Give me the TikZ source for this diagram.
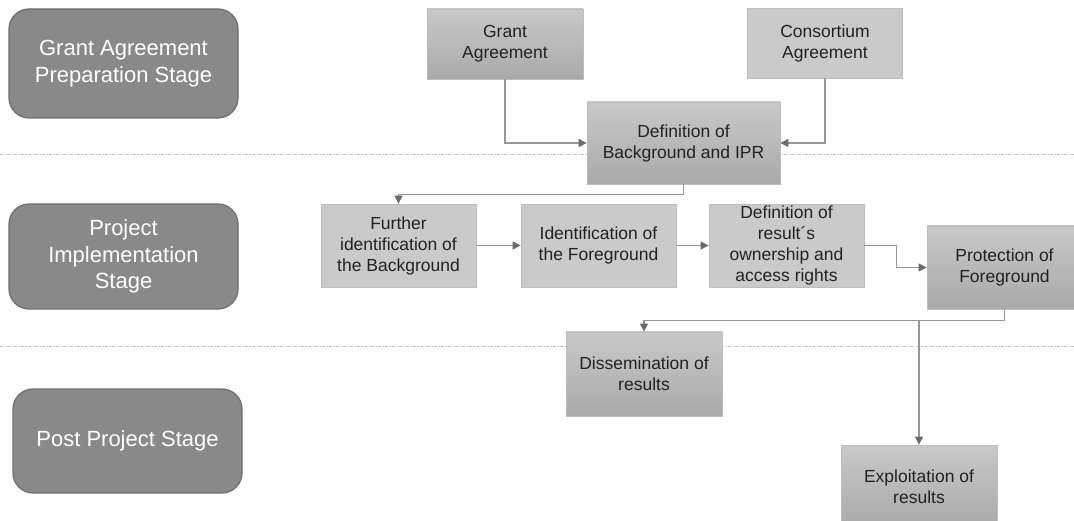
\documentclass[tikz,border=0pt]{standalone}
\usepackage{fontspec}
\setmainfont{Liberation Sans}
\usepackage{tikz}
\usetikzlibrary{shapes, arrows.meta, positioning}
\definecolor{stagefill}{HTML}{898989}
\definecolor{stageedge}{HTML}{6E6E6E}
\definecolor{boxflat}{HTML}{CACACA}
\definecolor{boxedge}{HTML}{BDBDBD}
\definecolor{shadetop}{HTML}{C9C9C9}
\definecolor{shadebottom}{HTML}{A9A9A9}
\definecolor{linkgray}{HTML}{969696}
\definecolor{tipgray}{HTML}{6A6A6A}
\definecolor{sepgray}{HTML}{BCBCBC}
\definecolor{textdark}{HTML}{222222}
\tikzstyle{stage} = [rectangle, rounded corners=20pt, minimum width=229pt, minimum height=105pt, text centered, align=center, draw=stageedge, line width=1.2pt, fill=stagefill, text=white, font=\fontsize{22}{26.5}\selectfont]
\tikzstyle{lightbox} = [rectangle, minimum width=155pt, minimum height=83pt, inner sep=0pt, text centered, align=center, draw=boxedge, line width=0.8pt, fill=boxflat, text=textdark, font=\fontsize{17.5}{21}\selectfont]
\tikzstyle{shadebox} = [rectangle, minimum width=155pt, minimum height=83pt, inner sep=0pt, text centered, align=center, draw=boxedge, line width=0.8pt, top color=shadetop, bottom color=shadebottom, text=textdark, font=\fontsize{17.5}{21}\selectfont]
\tikzstyle{arrow} = [line width=1.1pt, draw=linkgray, -{Triangle[length=8pt,width=8pt,color=tipgray]}]
\tikzstyle{sepline} = [line width=1pt, draw=sepgray, dash pattern=on 3pt off 1.5pt on 1pt off 1.5pt]

\begin{document}
\begin{tikzpicture}[x=1pt, y=-1pt, node distance=200pt]
\useasboundingbox (0,0) rectangle (1074,521);
\fill [white] (0,0) rectangle (1074,521);
\clip (0,0) rectangle (1074,521);

\draw [sepline] (0,155) -- (1074,155);
\draw [sepline] (0,347) -- (1074,347);

% stages
\node (prepstage) [stage, minimum height=109pt] at (123.5,63.5) {Grant Agreement\\Preparation Stage};
\node (implstage) [stage] at (123.5,256.5) {Project\\Implementation\\Stage};
\node (poststage) [stage, minimum height=104pt] at (127.5,441) {Post Project Stage};

\node (grant) [shadebox, minimum width=156pt, minimum height=70pt] at (505,44) {Grant\\Agreement};
\node (consortium) [lightbox, minimum height=70pt, right of=grant, xshift=120pt, yshift=1pt] {Consortium\\Agreement};
\node (bgipr) [shadebox, minimum width=193pt, minimum height=82pt] at (683.5,143) {Definition of\\Background and IPR};
\node (furtherbg) [lightbox] at (398.5,245.5) {Further\\identification of\\the Background};
\node (foreground) [lightbox, right of=furtherbg] {Identification of\\the Foreground};
\node (ownership) [lightbox, right of=foreground, xshift=-12pt] {Definition of\\result´s\\ownership and\\access rights};
\node (protection) [shadebox, right of=ownership, xshift=18pt, yshift=-22pt] {Protection of\\Foreground};
\node (dissemination) [shadebox, minimum width=156pt, minimum height=84pt] at (644,374) {Dissemination of\\results};
\node (exploitation) [shadebox, minimum width=156pt] at (919,486.5) {Exploitation of\\results};

\draw [arrow] (grant) |- (bgipr);
\draw [arrow] (consortium) |- (bgipr);
\draw [arrow] (bgipr.south) -- ++(0,10) -| (furtherbg.north);
\draw [arrow] (furtherbg) -- (foreground);
\draw [arrow] (foreground) -- (ownership);
\draw [arrow] (ownership.east) -- ++(32,0) |- (protection.west);
\draw [arrow] (protection.south) -- ++(0,11) -| (dissemination.north);
\draw [arrow] (protection.south) -- ++(0,11) -| (exploitation.north);
\end{tikzpicture}
\end{document}
